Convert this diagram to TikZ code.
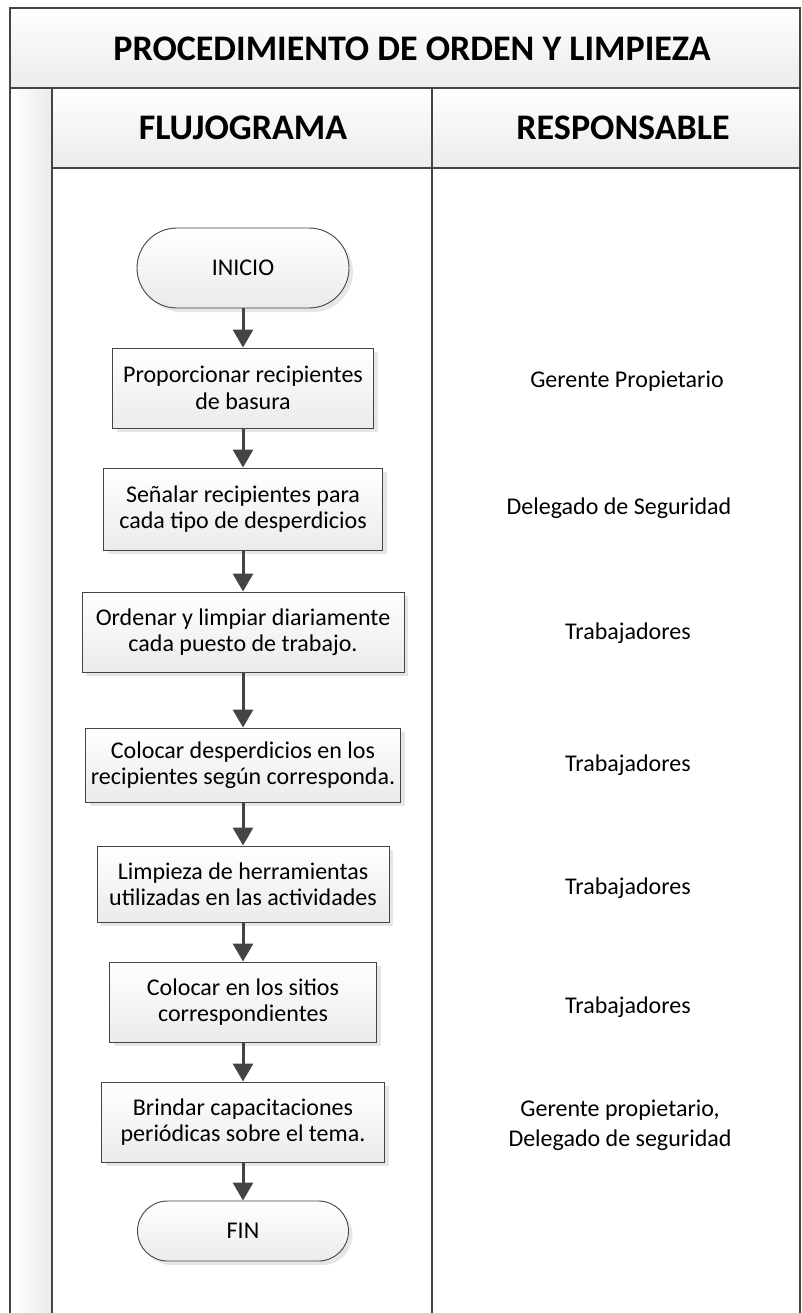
\documentclass[tikz,border=0pt]{standalone}
\usepackage{fontspec}
\setmainfont{Carlito}
\usetikzlibrary{arrows.meta,shadows}

\definecolor{gris}{HTML}{444444}
\definecolor{fondo}{HTML}{EBEBEB}

\begin{document}
\begin{tikzpicture}[x=1pt,y=-1pt,
    linea/.style={draw=gris,line width=2pt},
    encabezado/.style={font=\fontsize{36}{40}\selectfont\bfseries,inner sep=0pt},
    paso/.style={draw=gris,line width=0.9pt,top color=white,bottom color=fondo,
      drop shadow={shadow xshift=4pt,shadow yshift=-4pt,opacity=0.2},
      align=center,inner sep=0pt,font=\fontsize{24}{26.5}\selectfont},
    terminal/.style={paso,rounded corners=#1},
    responsable/.style={align=center,font=\fontsize{24}{30}\selectfont},
    flecha/.style={draw=gris,line width=3pt,-{Triangle[width=20pt,length=18pt]}}]
  \useasboundingbox (0,0) rectangle (801,1313);

  \shade[top color=white,bottom color=fondo] (10,8) rectangle (801,88);
  \shade[top color=white,bottom color=fondo] (52,88) rectangle (801,168);
  \shade[left color=white,right color=fondo] (10,88) rectangle (52,1313);
  \draw[linea] (10,1313) -- (10,8) -- (799.5,8) -- (799.5,1313);
  \draw[linea] (10,88) -- (801,88);
  \draw[linea] (52,168) -- (801,168);
  \draw[linea] (52,88) -- (52,1313);
  \draw[linea] (432,88) -- (432,1313);

  \node[encabezado] (titulo) at (412,49) {PROCEDIMIENTO DE ORDEN Y LIMPIEZA};
  \node[encabezado] (flujo) at (243,128) {FLUJOGRAMA};
  \node[encabezado] (resp) at (623,128) {RESPONSABLE};

  \node[terminal=40pt,minimum width=212pt,minimum height=80pt] (inicio) at (243,268) {INICIO};
  \node[paso,minimum width=261pt,minimum height=80pt] (p1) at (243,388) {Proporcionar recipientes\\de basura};
  \node[paso,minimum width=279pt,minimum height=82pt] (p2) at (243,509) {Señalar recipientes para\\cada tipo de desperdicios};
  \node[paso,minimum width=322pt,minimum height=80pt] (p3) at (243,632) {Ordenar y limpiar diariamente\\cada puesto de trabajo.};
  \node[paso,minimum width=315pt,minimum height=74pt] (p4) at (243,765) {Colocar desperdicios en los\\recipientes según corresponda.};
  \node[paso,minimum width=292pt,minimum height=76pt] (p5) at (243,884) {Limpieza de herramientas\\utilizadas en las actividades};
  \node[paso,minimum width=267pt,minimum height=80pt] (p6) at (243,1002) {Colocar en los sitios\\correspondientes};
  \node[paso,minimum width=283pt,minimum height=80pt] (p7) at (243,1122) {Brindar capacitaciones\\periódicas sobre el tema.};
  \node[terminal=30pt,minimum width=211pt,minimum height=60pt] (fin) at (243,1231) {FIN};

  \draw[flecha] (inicio) -- (p1);
  \draw[flecha] (p1) -- (p2);
  \draw[flecha] (p2) -- (p3);
  \draw[flecha] (p3) -- (p4);
  \draw[flecha] (p4) -- (p5);
  \draw[flecha] (p5) -- (p6);
  \draw[flecha] (p6) -- (p7);
  \draw[flecha] (p7) -- (fin);

  \node[responsable] (r1) at (627,381) {Gerente Propietario};
  \node[responsable] (r2) at (619,508) {Delegado de Seguridad};
  \node[responsable] (r3) at (628,633) {Trabajadores};
  \node[responsable] (r4) at (628,765) {Trabajadores};
  \node[responsable] (r5) at (628,888) {Trabajadores};
  \node[responsable] (r6) at (628,1007) {Trabajadores};
  \node[responsable] (r7) at (620,1125) {Gerente propietario,\\Delegado de seguridad};
\end{tikzpicture}
\end{document}
